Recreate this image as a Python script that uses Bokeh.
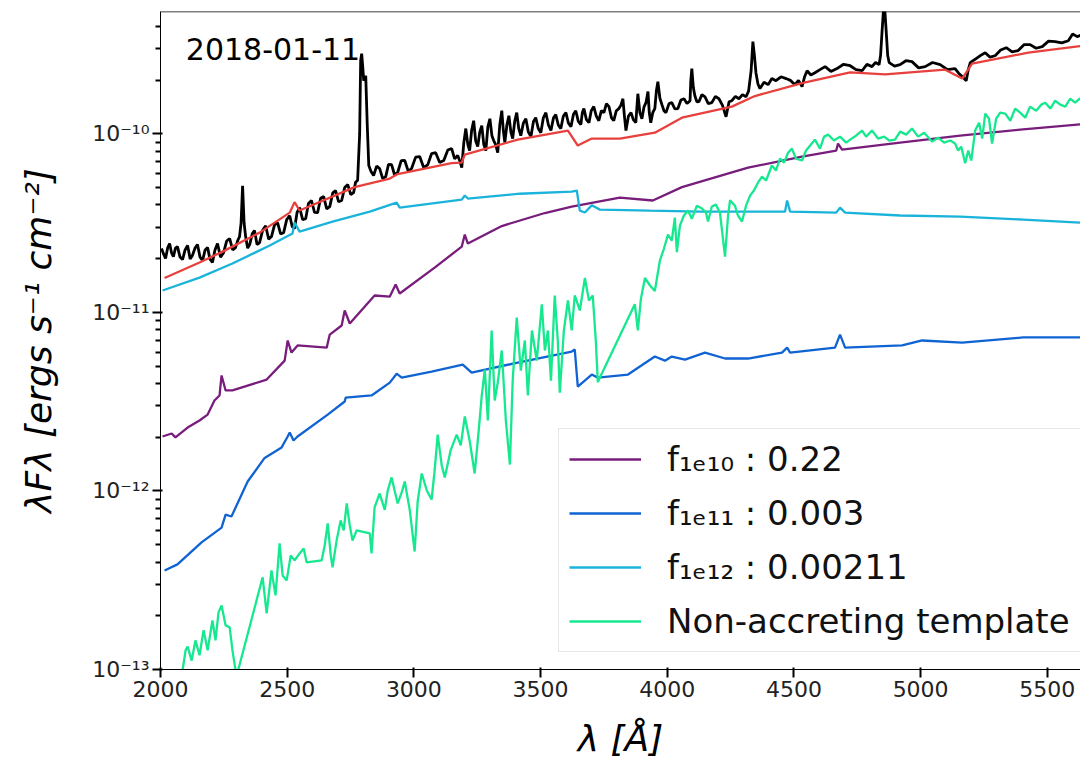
from bokeh.plotting import figure
from bokeh.models import (Range1d, FixedTicker, CustomJSTickFormatter, Legend,
                          LegendItem, Label, Span)
from bokeh.embed import file_html
from bokeh.resources import INLINE

# ---------------- data (wavelength in Angstrom, log10 of lambda*F_lambda) -----------
observed = [
    (2004, -10.642), (2012, -10.672), (2020, -10.698), (2028, -10.640), (2036, -10.614),
    (2044, -10.668), (2051, -10.687), (2059, -10.640), (2067, -10.631), (2077, -10.690),
    (2087, -10.704), (2097, -10.650), (2107, -10.625), (2117, -10.700), (2126, -10.681),
    (2136, -10.640), (2146, -10.62), (2156, -10.690), (2166, -10.709), (2176, -10.650),
    (2186, -10.637), (2195, -10.700), (2205, -10.72), (2215, -10.650), (2225, -10.614),
    (2237, -10.690), (2249, -10.665), (2261, -10.600), (2273, -10.586), (2285, -10.650),
    (2296, -10.637), (2304, -10.600), (2312, -10.575), (2318, -10.500), (2324, -10.29),
    (2330, -10.500), (2336, -10.575), (2344, -10.640), (2352, -10.62), (2362, -10.560),
    (2371, -10.541), (2381, -10.620), (2391, -10.609), (2403, -10.540), (2415, -10.514),
    (2427, -10.590), (2438, -10.575), (2450, -10.510), (2462, -10.497), (2474, -10.560),
    (2486, -10.553), (2498, -10.480), (2510, -10.458), (2520, -10.520), (2529, -10.53),
    (2539, -10.440), (2549, -10.413), (2561, -10.480), (2573, -10.475), (2584, -10.390),
    (2596, -10.373), (2608, -10.440), (2620, -10.441), (2632, -10.360), (2644, -10.351),
    (2656, -10.420), (2668, -10.407), (2680, -10.330), (2691, -10.318), (2703, -10.380),
    (2715, -10.373), (2727, -10.300), (2739, -10.284), (2751, -10.340), (2762, -10.329),
    (2770, -10.270), (2778, -10.261), (2786, -10.000), (2790, -9.59), (2794, -9.55),
    (2798, -9.620), (2802, -9.702), (2806, -9.690), (2810, -9.674), (2816, -9.950),
    (2822, -10.177), (2831, -10.210), (2841, -10.233), (2853, -10.180), (2865, -10.194),
    (2877, -10.250), (2889, -10.239), (2900, -10.170), (2912, -10.172), (2924, -10.230),
    (2936, -10.216), (2950, -10.150), (2964, -10.149), (2978, -10.210), (2991, -10.194),
    (3007, -10.130), (3023, -10.127), (3039, -10.190), (3055, -10.172), (3070, -10.110),
    (3086, -10.105), (3102, -10.160), (3118, -10.149), (3134, -10.090), (3149, -10.082),
    (3161, -10.140), (3173, -10.121), (3181, -10.150), (3189, -10.189), (3197, -10.050),
    (3205, -9.97), (3213, -10.060), (3220, -10.093), (3228, -9.980), (3236, -9.926),
    (3244, -10.040), (3252, -10.071), (3260, -9.990), (3268, -9.954), (3276, -10.060),
    (3284, -10.093), (3292, -9.960), (3300, -9.915), (3308, -10.010), (3315, -10.037),
    (3323, -10.060), (3331, -10.105), (3339, -9.950), (3347, -9.87), (3353, -9.980),
    (3359, -10.049), (3367, -9.950), (3375, -9.898), (3383, -9.990), (3390, -10.026),
    (3398, -9.930), (3406, -9.881), (3414, -9.970), (3422, -10.01), (3432, -9.940),
    (3442, -9.915), (3452, -9.990), (3462, -10.015), (3472, -9.930), (3481, -9.909),
    (3491, -9.970), (3501, -9.993), (3511, -9.910), (3521, -9.881), (3531, -9.950),
    (3541, -9.981), (3551, -9.910), (3560, -9.892), (3570, -9.950), (3580, -9.97),
    (3590, -9.900), (3600, -9.881), (3610, -9.940), (3620, -9.959), (3630, -9.890),
    (3639, -9.87), (3649, -9.930), (3659, -9.948), (3665, -9.880), (3671, -9.858),
    (3681, -9.920), (3691, -9.937), (3700, -9.870), (3710, -9.847), (3720, -9.900),
    (3730, -9.926), (3740, -9.870), (3750, -9.881), (3760, -9.830), (3770, -9.847),
    (3780, -9.910), (3789, -9.926), (3799, -9.870), (3809, -9.858), (3817, -9.840),
    (3825, -9.803), (3831, -9.900), (3837, -9.981), (3847, -9.900), (3857, -9.881),
    (3866, -9.920), (3876, -9.937), (3884, -9.775), (3892, -9.880), (3900, -9.915),
    (3908, -9.850), (3916, -9.825), (3924, -9.763), (3929, -9.880), (3935, -9.937),
    (3943, -9.880), (3951, -9.858), (3957, -9.760), (3963, -9.707), (3971, -9.800),
    (3979, -9.836), (3987, -9.870), (3995, -9.881), (4007, -9.830), (4018, -9.825),
    (4030, -9.860), (4042, -9.858), (4054, -9.810), (4066, -9.803), (4078, -9.830),
    (4090, -9.814), (4093, -9.700), (4097, -9.634), (4103, -9.740), (4109, -9.786),
    (4117, -9.820), (4125, -9.819), (4137, -9.780), (4149, -9.792), (4162, -9.830),
    (4176, -9.825), (4190, -9.790), (4204, -9.803), (4218, -9.840), (4232, -9.904),
    (4244, -9.820), (4255, -9.814), (4269, -9.790), (4283, -9.803), (4297, -9.780),
    (4311, -9.792), (4321, -9.760), (4331, -9.646), (4338, -9.483), (4344, -9.560),
    (4350, -9.657), (4358, -9.720), (4366, -9.746), (4382, -9.710), (4398, -9.724),
    (4413, -9.690), (4429, -9.702), (4449, -9.680), (4469, -9.69), (4486, -9.700),
    (4504, -9.724), (4518, -9.700), (4532, -9.735), (4542, -9.680), (4552, -9.646),
    (4567, -9.670), (4583, -9.657), (4603, -9.640), (4623, -9.623), (4646, -9.650),
    (4670, -9.634), (4696, -9.610), (4722, -9.618), (4745, -9.640), (4769, -9.646),
    (4788, -9.610), (4808, -9.623), (4822, -9.600), (4836, -9.612), (4842, -9.560),
    (4848, -9.421), (4856, -9.25), (4864, -9.421), (4870, -9.560), (4876, -9.601),
    (4897, -9.620), (4919, -9.612), (4942, -9.590), (4966, -9.595), (4992, -9.630),
    (5018, -9.623), (5047, -9.600), (5077, -9.612), (5106, -9.640), (5136, -9.634),
    (5150, -9.660), (5164, -9.679), (5172, -9.690), (5180, -9.702), (5188, -9.640),
    (5196, -9.601), (5207, -9.590), (5219, -9.578), (5237, -9.560), (5255, -9.545),
    (5274, -9.570), (5294, -9.562), (5316, -9.530), (5338, -9.517), (5361, -9.540),
    (5385, -9.533), (5408, -9.500), (5432, -9.5), (5456, -9.520), (5480, -9.511),
    (5505, -9.480), (5531, -9.483), (5557, -9.490), (5583, -9.478), (5600, -9.440),
    (5618, -9.455), (5638, -9.444),
]

total_model = [
    (2016, -10.807), (2154, -10.72), (2241, -10.662), (2391, -10.553), (2510, -10.441),
    (2529, -10.382), (2549, -10.429), (2766, -10.298), (2905, -10.25), (2936, -10.225),
    (3149, -10.164), (3189, -10.161), (3201, -10.116), (3410, -10.032), (3608, -9.981),
    (3647, -10.065), (3702, -10.026), (3813, -10.026), (3951, -9.993), (4058, -9.909),
    (4255, -9.847), (4346, -9.788), (4532, -9.715), (4722, -9.655), (4860, -9.666),
    (5097, -9.64), (5164, -9.69), (5203, -9.606), (5425, -9.545), (5630, -9.508),
]

f_1e10 = [
    (2008, -11.695), (2044, -11.678), (2059, -11.70), (2107, -11.645), (2154, -11.605),
    (2186, -11.572), (2213, -11.493), (2233, -11.465), (2241, -11.353), (2257, -11.437),
    (2284, -11.437), (2419, -11.376), (2490, -11.27), (2502, -11.157), (2517, -11.225),
    (2541, -11.185), (2656, -11.197), (2668, -11.124), (2715, -11.073), (2727, -10.989),
    (2747, -11.062), (2845, -10.905), (2905, -10.911), (2928, -10.844), (2944, -10.894),
    (3082, -10.749), (3189, -10.631), (3201, -10.564), (3213, -10.614), (3347, -10.516),
    (3517, -10.443), (3623, -10.407), (3813, -10.357), (3943, -10.373), (4058, -10.298),
    (4319, -10.189), (4532, -10.127), (4667, -10.093), (4674, -10.054), (4690, -10.088),
    (4919, -10.049), (5156, -10.01), (5393, -9.976), (5630, -9.946),
]

f_1e11 = [
    (2016, -12.445), (2067, -12.411), (2162, -12.288), (2241, -12.205), (2257, -12.132),
    (2280, -12.143), (2344, -11.947), (2411, -11.815), (2478, -11.756), (2502, -11.695),
    (2510, -11.672), (2525, -11.717), (2541, -11.695), (2660, -11.572), (2727, -11.499),
    (2731, -11.477), (2833, -11.465), (2905, -11.393), (2932, -11.343), (2952, -11.365),
    (3070, -11.331), (3193, -11.292), (3228, -11.337), (3410, -11.281), (3623, -11.219),
    (3635, -11.208), (3647, -11.415), (3702, -11.348), (3726, -11.365), (3845, -11.348),
    (3951, -11.247), (3991, -11.27), (4018, -11.247), (4070, -11.264), (4149, -11.225),
    (4228, -11.258), (4319, -11.258), (4453, -11.225), (4473, -11.197), (4485, -11.225),
    (4662, -11.197), (4682, -11.124), (4702, -11.197), (4927, -11.185), (5006, -11.157),
    (5164, -11.169), (5405, -11.14), (5630, -11.14),
]

f_1e12 = [
    (2008, -10.877), (2154, -10.805), (2284, -10.726), (2431, -10.625), (2521, -10.558),
    (2529, -10.496), (2549, -10.547), (2679, -10.491), (2826, -10.435), (2932, -10.385),
    (2944, -10.413), (3189, -10.368), (3201, -10.345), (3213, -10.362), (3418, -10.335),
    (3623, -10.323), (3643, -10.317), (3655, -10.43), (3675, -10.44), (3702, -10.40),
    (3734, -10.424), (3932, -10.43), (4129, -10.435), (4465, -10.435), (4473, -10.373),
    (4485, -10.435), (4667, -10.441), (4682, -10.413), (4702, -10.441), (4919, -10.457),
    (5156, -10.463), (5405, -10.48), (5630, -10.497),
]

template = [
    (2087, -13.005), (2099, -12.893), (2107, -12.871), (2123, -12.95), (2138, -12.837),
    (2154, -12.92), (2170, -12.78), (2186, -12.893), (2205, -12.725), (2217, -12.837),
    (2229, -12.68), (2241, -12.641), (2257, -12.753), (2273, -12.764), (2284, -12.893),
    (2300, -13.039), (2403, -12.484), (2419, -12.686), (2438, -12.445), (2454, -12.585),
    (2470, -12.294), (2482, -12.473), (2498, -12.501), (2514, -12.361), (2529, -12.389),
    (2549, -12.35), (2565, -12.322), (2577, -12.4), (2636, -12.389), (2648, -12.305),
    (2660, -12.182), (2672, -12.361), (2679, -12.428), (2695, -12.278), (2711, -12.165),
    (2723, -12.221), (2735, -12.07), (2747, -12.193), (2758, -12.278), (2774, -12.221),
    (2826, -12.238), (2833, -12.35), (2845, -12.092), (2865, -12.014), (2885, -12.106),
    (2897, -11.997), (2912, -11.924), (2936, -12.07), (2952, -12.008), (2964, -11.947),
    (2984, -12.109), (3003, -12.339), (3015, -12.059), (3031, -11.902), (3051, -11.997),
    (3070, -12.048), (3082, -11.885), (3094, -11.684), (3110, -11.857), (3122, -11.924),
    (3145, -11.773), (3169, -11.684), (3185, -11.745), (3201, -11.583), (3220, -11.717),
    (3240, -11.902), (3256, -11.661), (3268, -11.465), (3280, -11.32), (3292, -11.605),
    (3307, -11.101), (3319, -11.493), (3331, -11.393), (3347, -11.213), (3363, -11.605),
    (3379, -11.852), (3390, -11.382), (3406, -11.029), (3422, -11.326), (3438, -11.157),
    (3450, -11.465), (3466, -11.101), (3485, -11.27), (3505, -10.954), (3517, -11.213),
    (3529, -11.101), (3541, -11.382), (3556, -10.905), (3568, -11.157), (3576, -11.449),
    (3592, -11.101), (3608, -10.933), (3623, -11.101), (3635, -10.905), (3655, -10.989),
    (3675, -10.807), (3691, -10.933), (3706, -10.905), (3718, -11.157), (3726, -11.39),
    (3872, -10.954), (3884, -11.101), (3896, -10.924), (3912, -10.807), (3932, -10.849),
    (3951, -10.88), (3971, -10.709), (3987, -10.642), (4003, -10.564), (4018, -10.597),
    (4030, -10.469), (4038, -10.662), (4050, -10.513), (4066, -10.457), (4082, -10.429),
    (4097, -10.475), (4117, -10.402), (4137, -10.418), (4153, -10.441), (4161, -10.491),
    (4176, -10.407), (4192, -10.396), (4208, -10.441), (4228, -10.687), (4240, -10.457),
    (4248, -10.371), (4267, -10.402), (4279, -10.457), (4295, -10.491), (4311, -10.402),
    (4327, -10.346), (4342, -10.317), (4358, -10.273), (4374, -10.239), (4390, -10.261),
    (4413, -10.177), (4429, -10.205), (4445, -10.138), (4461, -10.161), (4477, -10.105),
    (4492, -10.082), (4508, -10.138), (4532, -10.149), (4548, -10.093), (4564, -10.065),
    (4583, -10.032), (4603, -10.082), (4619, -10.015), (4635, -10.004), (4658, -10.037),
    (4682, -10.015), (4706, -10.049), (4722, -10.032), (4745, -10.01), (4769, -9.981),
    (4785, -10.015), (4808, -9.981), (4832, -10.026), (4856, -10.015), (4876, -10.037),
    (4899, -10.032), (4919, -9.987), (4943, -10.004), (4966, -9.97), (4990, -10.015),
    (5014, -9.993), (5045, -10.043), (5069, -10.021), (5093, -10.049), (5117, -10.037),
    (5136, -10.054), (5148, -10.093), (5160, -10.071), (5176, -10.164), (5188, -10.093),
    (5200, -10.149), (5215, -9.981), (5231, -9.937), (5243, -10.026), (5255, -9.886),
    (5270, -9.915), (5282, -10.054), (5298, -9.915), (5314, -9.881), (5334, -9.886),
    (5354, -9.926), (5373, -9.858), (5393, -9.881), (5413, -9.909), (5432, -9.847),
    (5456, -9.87), (5476, -9.836), (5492, -9.825), (5512, -9.858), (5531, -9.814),
    (5551, -9.836), (5571, -9.847), (5590, -9.803), (5610, -9.825), (5630, -9.8),
]

legend_labels = ["f\u2081\u2091\u2081\u2080 : 0.22", "f\u2081\u2091\u2081\u2081 : 0.003",
                 "f\u2081\u2091\u2081\u2082 : 0.00211", "Non-accreting template"]
x_ticks = [2000, 2500, 3000, 3500, 4000, 4500, 5000, 5500]
y_ticks = [1e-13, 1e-12, 1e-11, 1e-10]
date_label = "2018-01-11"


def split(pairs):
    xs = [a for a, _ in pairs]
    ys = [10.0 ** b for _, b in pairs]
    return xs, ys


FONT = "DejaVu Sans"
Y_TOP = 4.85e-10

p = figure(width=1080, height=766, y_axis_type="log",
           x_range=Range1d(2000, 5631), y_range=Range1d(1e-13, Y_TOP),
           output_backend="svg", toolbar_location=None,
           min_border_left=160, min_border_right=0, min_border_top=11,
           min_border_bottom=97)
p.outline_line_color = None
p.xgrid.visible = False
p.ygrid.visible = False

lw = 2.3
x, y = split(observed)
p.line(x, y, line_color="black", line_width=2.8)
x, y = split(total_model)
p.line(x, y, line_color="#e8403c", line_width=lw)
x, y = split(f_1e10)
r1 = p.line(x, y, line_color="#781d7c", line_width=lw)
x, y = split(f_1e11)
r2 = p.line(x, y, line_color="#0f63d2", line_width=lw)
x, y = split(f_1e12)
r3 = p.line(x, y, line_color="#1ab3da", line_width=lw)
x, y = split(template)
r4 = p.line(x, y, line_color="#16e88f", line_width=lw)

# top spine
p.add_layout(Span(location=Y_TOP, dimension="width", line_color="black",
                  line_width=1.6))

# axes (tick styling kept to the plain properties)
xa = p.xaxis[0]
ya = p.yaxis[0]
for ax in (xa, ya):
    ax.axis_line_color = "black"
    ax.major_tick_out = 8
    ax.major_tick_line_color = "black"
    ax.major_tick_line_width = 2
    ax.major_label_text_font = FONT
    ax.major_label_text_font_size = "22px"
    ax.major_label_text_color = "#222222"
    ax.axis_label_text_font = FONT
    ax.axis_label_text_font_size = "36px"
    ax.axis_label_text_font_style = "italic"
    ax.axis_label_text_color = "black"

xa.ticker = FixedTicker(ticks=x_ticks)
xa.minor_tick_line_color = None
xa.major_label_standoff = 3
xa.axis_label = "\u03bb [\u00c5]"
xa.axis_label_standoff = 18

y_minor = [m * t for t in y_ticks for m in range(2, 10)]
ya.ticker = FixedTicker(ticks=y_ticks, minor_ticks=y_minor)
ya.minor_tick_out = 5
ya.minor_tick_line_color = "black"
ya.minor_tick_line_width = 2
ya.major_label_standoff = 3
ya.formatter = CustomJSTickFormatter(code="""
const e = Math.round(Math.log10(tick));
const m = {"-": "\u207b", "0": "\u2070", "1": "\u00b9", "2": "\u00b2", "3": "\u00b3",
           "4": "\u2074", "5": "\u2075", "6": "\u2076", "7": "\u2077", "8": "\u2078", "9": "\u2079"};
return "10" + String(e).split("").map(c => m[c]).join("");
""")
ya.axis_label = "\u03bbF\u03bb [ergs s\u207b\u00b9 cm\u207b\u00b2]"
ya.axis_label_standoff = 30

# date annotation
p.add_layout(Label(x=2100, y=3.0e-10, text=date_label, text_font=FONT,
                   text_font_size="30px", text_baseline="middle", text_color="black"))

legend = Legend(items=[LegendItem(label=legend_labels[0], renderers=[r1]),
                       LegendItem(label=legend_labels[1], renderers=[r2]),
                       LegendItem(label=legend_labels[2], renderers=[r3]),
                       LegendItem(label=legend_labels[3], renderers=[r4])],
                location=(398, 17))
legend.label_text_font = FONT
legend.label_text_font_size = "34px"
legend.label_text_color = "#111111"
legend.glyph_width = 72
legend.glyph_height = 40
legend.label_height = 40
legend.spacing = 14
legend.padding = 10
legend.margin = 0
legend.label_standoff = 26
legend.border_line_color = "#d0d0d0"
legend.border_line_width = 1.5
legend.background_fill_alpha = 0.9
p.add_layout(legend)

open("out.html", "w").write(file_html(p, INLINE))
